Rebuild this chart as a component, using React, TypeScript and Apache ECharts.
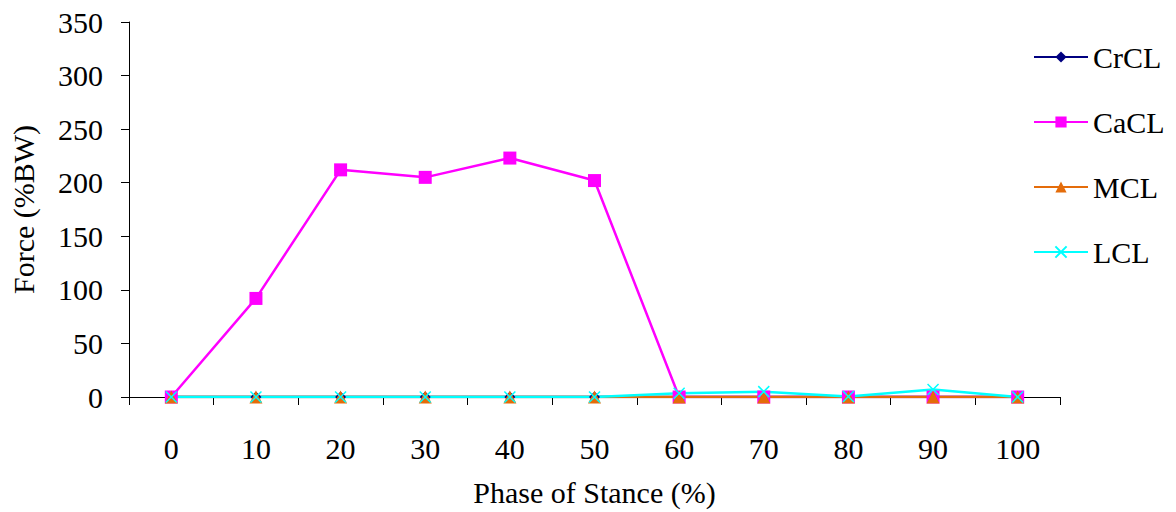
import React, { useEffect, useRef } from "react";
import * as echarts from "echarts";

const categories = ["0", "10", "20", "30", "40", "50", "60", "70", "80", "90", "100"];
const yTicks = [0, 50, 100, 150, 200, 250, 300, 350];
const crclValues = [0, 0, 0, 0, 0, 0, 0, 0, 0, 0, 0];
const caclValues = [0, 92, 212, 205, 223, 202, 0, 0, 0, 0, 0];
const mclValues = [0, 0, 0, 0, 0, 0, 0, 0, 0, 0, 0];
const lclValues = [0, 0, 0, 0, 0, 0, 3.5, 5, 0.5, 7, 0];

const FONT = "'Liberation Serif', 'Times New Roman', serif";
const CROSS = "path://M0,0L10,10M10,0L0,10";
const FS = 30;

export default function App() {
  const ref = useRef<HTMLDivElement>(null);
  useEffect(() => {
    document.body.style.margin = "0";
    const chart = echarts.init(ref.current!, null, { renderer: "svg" });
    const mk = (name: string, data: number[], color: string, symbol: string, size: number, extra: any = {}) => ({
      name,
      type: "line",
      data,
      symbol,
      symbolSize: size,
      showAllSymbol: true,
      lineStyle: { color, width: 2.5 },
      itemStyle: { color, borderColor: color, borderWidth: 0, ...extra },
      emphasis: { disabled: true },
    });
    chart.setOption({
      animation: false,
      backgroundColor: "#ffffff",
      textStyle: { fontFamily: FONT },
      grid: { left: 129, right: 116, top: 22, bottom: 108, containLabel: false },
      legend: {
        orient: "vertical",
        left: 1028,
        top: 37,
        itemGap: 35,
        itemWidth: 54,
        itemHeight: 14,
        textStyle: { fontFamily: FONT, fontSize: FS, color: "#000" },
        data: ["CrCL", "CaCL", "MCL", "LCL"],
      },
      xAxis: {
        type: "category",
        data: categories,
        boundaryGap: true,
        name: "Phase of Stance (%)",
        nameLocation: "middle",
        nameGap: 80,
        nameTextStyle: { fontFamily: FONT, fontSize: FS, color: "#000" },
        axisLine: { lineStyle: { color: "#000", width: 1 } },
        axisTick: { show: true, length: 8, alignWithLabel: false, lineStyle: { color: "#000" } },
        axisLabel: { fontFamily: FONT, fontSize: FS, color: "#000", margin: 36 },
        splitLine: { show: false },
      },
      yAxis: {
        type: "value",
        min: yTicks[0],
        max: yTicks[yTicks.length - 1],
        interval: 50,
        name: "Force (%BW)",
        nameLocation: "middle",
        nameGap: 91,
        nameRotate: 90,
        nameTextStyle: { fontFamily: FONT, fontSize: FS, color: "#000" },
        axisLine: { show: true, lineStyle: { color: "#000", width: 1 } },
        axisTick: { show: true, length: 8, lineStyle: { color: "#000" } },
        axisLabel: { fontFamily: FONT, fontSize: FS, color: "#000", margin: 26 },
        splitLine: { show: false },
      },
      series: [
        mk("CrCL", crclValues, "#000080", "diamond", 11),
        mk("CaCL", caclValues, "#FF00FF", "rect", 13),
        mk("MCL", mclValues, "#E46C0A", "triangle", 13),
        mk("LCL", lclValues, "#00FFFF", CROSS, 11, { color: "#00FFFF", borderColor: "#00FFFF", borderWidth: 1.5 }),
      ],
    });
    return () => chart.dispose();
  }, []);
  return <div ref={ref} style={{ width: 1176, height: 512 }} />;
}
